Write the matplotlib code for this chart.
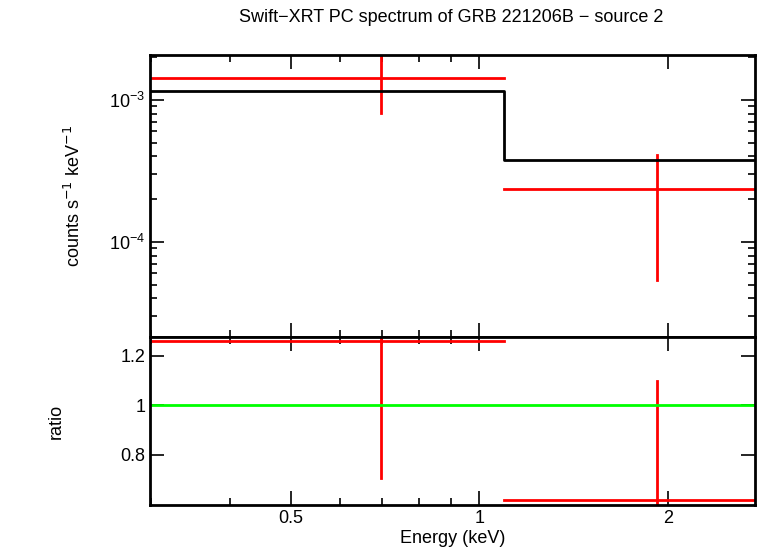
import matplotlib
matplotlib.use("Agg")
import matplotlib.pyplot as plt
from matplotlib.ticker import FixedLocator, NullFormatter, LogLocator

plt.rcParams["font.family"] = "Liberation Sans"

# data bins (keV)
e_lo = [0.30, 1.096]
e_hi = [1.096, 2.75]
e_cen = [0.697, 1.92]
rate = [1.43e-3, 2.36e-4]
rate_lo = [8.1e-4, 5.4e-5]
rate_hi = [3.0e-3, 4.1e-4]
model = [1.16e-3, 3.8e-4]
ratio = [1.26, 0.616]
ratio_lo = [0.705, 0.40]
ratio_hi = [1.60, 1.097]

W, H = 758, 556
fig = plt.figure(figsize=(W / 100, H / 100), dpi=100)
x0, x1 = 150 / W, 755 / W
ax1 = fig.add_axes([x0, 1 - 337 / H, x1 - x0, (337 - 55) / H])
ax2 = fig.add_axes([x0, 1 - 505 / H, x1 - x0, (505 - 337) / H], sharex=ax1)

for i in range(2):
    ax1.plot([e_lo[i], e_hi[i]], [rate[i]] * 2, color="red", lw=2)
    ax1.plot([e_cen[i]] * 2, [rate_lo[i], rate_hi[i]], color="red", lw=2)
    ax2.plot([e_lo[i], e_hi[i]], [ratio[i]] * 2, color="red", lw=2)
    ax2.plot([e_cen[i]] * 2, [ratio_lo[i], ratio_hi[i]], color="red", lw=2)
ax1.step(e_lo + [e_hi[-1]], model + [model[-1]], where="post", color="black", lw=2)
ax2.axhline(1.0, color="#00ff00", lw=2)

ax1.set_xscale("log")
ax1.set_yscale("log")
ax1.set_xlim(0.2985, 2.75)
ax1.set_ylim(2.14e-5, 2.07e-3)
ax2.set_ylim(0.596, 1.275)

ax2.xaxis.set_major_locator(FixedLocator([0.5, 1, 2]))
ax2.xaxis.set_minor_locator(FixedLocator([0.3, 0.4, 0.6, 0.7, 0.8, 0.9]))
ax2.set_xticklabels(["0.5", "1", "2"])
ax2.xaxis.set_minor_formatter(NullFormatter())
plt.setp(ax1.get_xticklabels(), visible=False)
ax2.set_yticks([0.8, 1.0, 1.2])
ax2.set_yticklabels(["0.8", "1", "1.2"])
ax1.yaxis.set_major_locator(LogLocator(base=10))

for ax in (ax1, ax2):
    ax.tick_params(which="both", direction="in", top=True, right=True, labelsize=13)
    ax.tick_params(which="major", length=10, width=1.2)
    ax.tick_params(which="minor", length=5, width=1.2)
    for s in ax.spines.values():
        s.set_linewidth(2)

ax1.set_ylabel("counts s$^{-1}$ keV$^{-1}$", fontsize=13, labelpad=18)
ax2.set_ylabel("ratio", fontsize=13, labelpad=40)
ax2.set_xlabel("Energy (keV)", fontsize=13, labelpad=2)
fig.text(0.595, 1 - 18 / H, "Swift\u2212XRT PC spectrum of GRB 221206B \u2212 source 2",
         ha="center", va="center", fontsize=13)

fig.savefig("out.png", dpi=100)
